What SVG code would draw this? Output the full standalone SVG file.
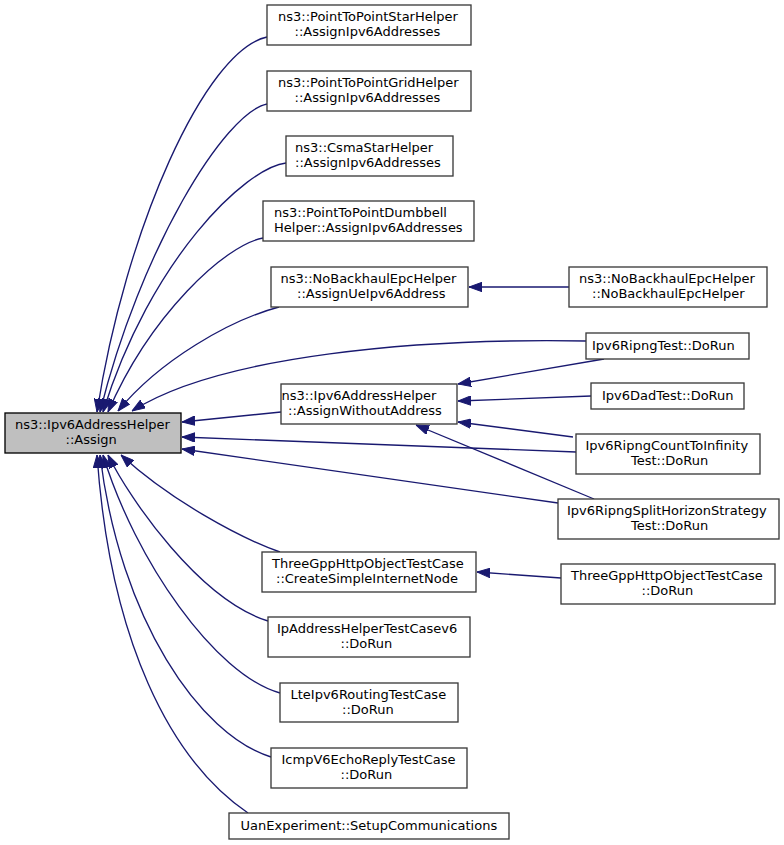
<svg xmlns="http://www.w3.org/2000/svg" width="784" height="845" viewBox="0 0 784 845">
<style>
  .n rect { fill: #ffffff; stroke: #3a3a3a; stroke-width: 1.33; }
  .m rect { fill: #bfbfbf; stroke: #000000; stroke-width: 1.33; }
  text { font-family: "DejaVu Sans", "Liberation Sans", sans-serif; font-size: 13px; fill: #000000; }
  .e path { fill: none; stroke: #191970; stroke-width: 1.33; marker-end: url(#arr); }
</style>
<defs>
  <marker id="arr" markerUnits="userSpaceOnUse" viewBox="0 0 13 10" refX="13" refY="5" markerWidth="13" markerHeight="10" orient="auto">
    <path d="M0,0.3 L13,5 L0,9.7 z" fill="#191970" stroke="#191970" stroke-width="1"/>
  </marker>
</defs>
<rect width="784" height="845" fill="#ffffff"/>
<g id="edges" class="e">
  <path d="M267,37 C205,50 125,230 97,412"/>
  <path d="M267,104 C225,112 140,250 100,412"/>
  <path d="M286,163 C245,168 150,260 103,412"/>
  <path d="M263,238 C225,245 150,315 108,412"/>
  <path d="M279,307 C230,320 160,360 118,411"/>
  <path d="M586,341 C420,338 220,355 132,411"/>
  <path d="M281,412 L182,422"/>
  <path d="M576,452 L182,437"/>
  <path d="M558,503 L182,449"/>
  <path d="M280,552 C240,538 170,500 121,455"/>
  <path d="M268,621 C200,600 130,500 108,455"/>
  <path d="M280,693 C215,675 135,560 103,455"/>
  <path d="M271,757 C200,735 120,620 100,455"/>
  <path d="M248,813 C170,760 110,640 97,455"/>
  <path d="M569,287 L469,287"/>
  <path d="M604,359 L458,384"/>
  <path d="M591,396 L458,401"/>
  <path d="M573,437 L458,422"/>
  <path d="M594,499 L416,425"/>
  <path d="M561,578 L477,572"/>
</g>
<g id="node_assign" class="m">
  <rect x="5" y="413" width="176" height="40"/>
  <text x="15" y="429">ns3::Ipv6AddressHelper</text>
  <text x="65.5" y="444">::Assign</text>
</g>
<g id="node_star" class="n">
  <rect x="267" y="5" width="204" height="40"/>
  <text x="278" y="21">ns3::PointToPointStarHelper</text>
  <text x="294.5" y="36">::AssignIpv6Addresses</text>
</g>
<g id="node_grid" class="n">
  <rect x="267" y="71" width="204" height="40"/>
  <text x="278" y="87">ns3::PointToPointGridHelper</text>
  <text x="294.5" y="102">::AssignIpv6Addresses</text>
</g>
<g id="node_csma" class="n">
  <rect x="286" y="136" width="167" height="40"/>
  <text x="295" y="152">ns3::CsmaStarHelper</text>
  <text x="295" y="167">::AssignIpv6Addresses</text>
</g>
<g id="node_dumbbell" class="n">
  <rect x="263" y="201" width="211" height="40"/>
  <text x="274" y="217">ns3::PointToPointDumbbell</text>
  <text x="274" y="232">Helper::AssignIpv6Addresses</text>
</g>
<g id="node_nobackhaul_assign" class="n">
  <rect x="271" y="267" width="197" height="40"/>
  <text x="280.5" y="283">ns3::NoBackhaulEpcHelper</text>
  <text x="297" y="298">::AssignUeIpv6Address</text>
</g>
<g id="node_nobackhaul_ctor" class="n">
  <rect x="569" y="267" width="198" height="40"/>
  <text x="579" y="283">ns3::NoBackhaulEpcHelper</text>
  <text x="592" y="298">::NoBackhaulEpcHelper</text>
</g>
<g id="node_ripngtest" class="n">
  <rect x="586" y="333" width="163" height="26"/>
  <text x="592" y="349.5">Ipv6RipngTest::DoRun</text>
</g>
<g id="node_awa" class="n">
  <rect x="281" y="384" width="176" height="40"/>
  <text x="281.5" y="400">ns3::Ipv6AddressHelper</text>
  <text x="288" y="415">::AssignWithoutAddress</text>
</g>
<g id="node_dadtest" class="n">
  <rect x="591" y="383" width="153" height="26"/>
  <text x="602" y="399.5">Ipv6DadTest::DoRun</text>
</g>
<g id="node_count" class="n">
  <rect x="576" y="434" width="184" height="40"/>
  <text x="585.5" y="450">Ipv6RipngCountToInfinity</text>
  <text x="631" y="465">Test::DoRun</text>
</g>
<g id="node_split" class="n">
  <rect x="558" y="499" width="221" height="40"/>
  <text x="567" y="515">Ipv6RipngSplitHorizonStrategy</text>
  <text x="631" y="530">Test::DoRun</text>
</g>
<g id="node_threegpp_create" class="n">
  <rect x="262" y="552" width="214" height="40"/>
  <text x="272" y="568">ThreeGppHttpObjectTestCase</text>
  <text x="276" y="583">::CreateSimpleInternetNode</text>
</g>
<g id="node_threegpp_dorun" class="n">
  <rect x="561" y="564" width="214" height="40"/>
  <text x="571" y="580">ThreeGppHttpObjectTestCase</text>
  <text x="641.5" y="595">::DoRun</text>
</g>
<g id="node_ipaddr" class="n">
  <rect x="268" y="617" width="202" height="40"/>
  <text x="277" y="633">IpAddressHelperTestCasev6</text>
  <text x="340.5" y="648">::DoRun</text>
</g>
<g id="node_lte" class="n">
  <rect x="280" y="683" width="178" height="39"/>
  <text x="290.5" y="699">LteIpv6RoutingTestCase</text>
  <text x="342" y="714">::DoRun</text>
</g>
<g id="node_icmp" class="n">
  <rect x="271" y="748" width="196" height="40"/>
  <text x="281.5" y="764">IcmpV6EchoReplyTestCase</text>
  <text x="340.5" y="779">::DoRun</text>
</g>
<g id="node_uan" class="n">
  <rect x="229" y="813" width="280" height="26"/>
  <text x="240.5" y="829.5">UanExperiment::SetupCommunications</text>
</g>
</svg>
